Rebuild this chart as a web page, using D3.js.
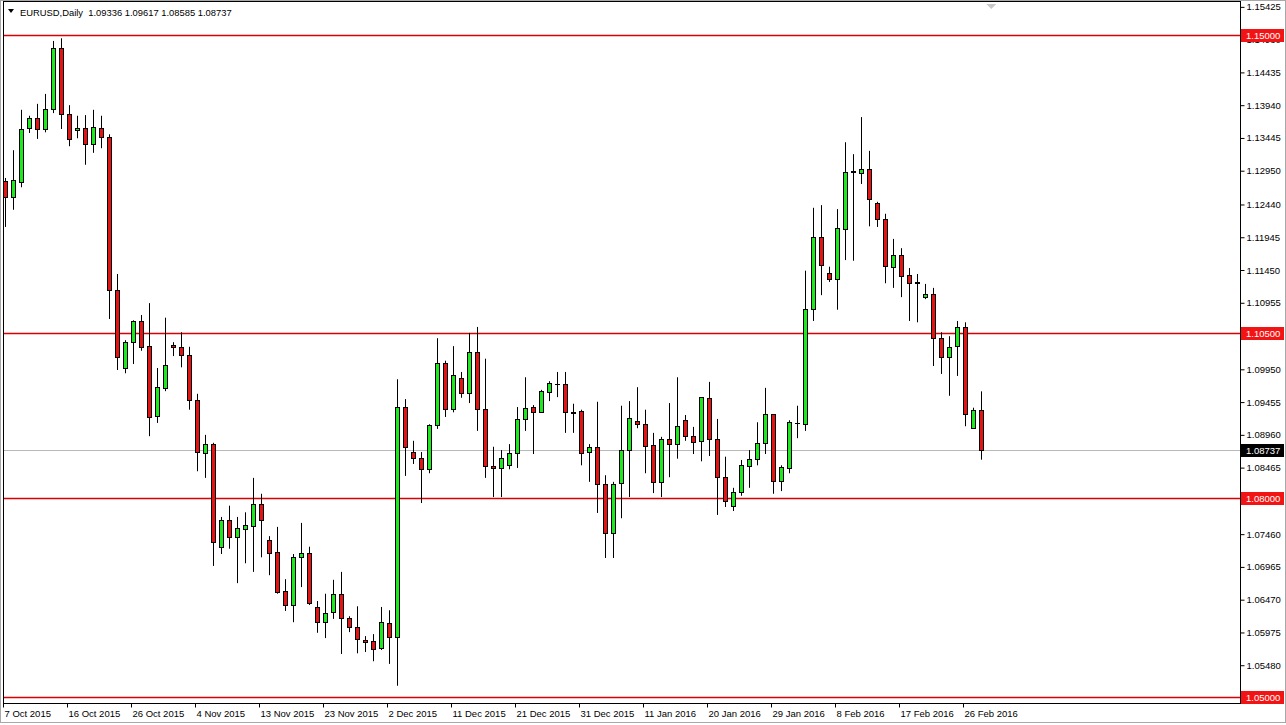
<!DOCTYPE html>
<html><head><meta charset="utf-8">
<script src="https://cdnjs.cloudflare.com/ajax/libs/d3/7.8.5/d3.min.js"></script>
<style>
html,body{margin:0;padding:0;background:#fff;}
svg{display:block;}
text{font-family:"Liberation Sans","DejaVu Sans",sans-serif;}
</style></head>
<body><svg id="c" width="1286" height="725"></svg>
<script>
const symbol = "EURUSD,Daily";
const dates = [
"2015-10-07","2015-10-08","2015-10-09","2015-10-11","2015-10-12","2015-10-13","2015-10-14","2015-10-15","2015-10-16","2015-10-18",
"2015-10-19","2015-10-20","2015-10-21","2015-10-22","2015-10-23","2015-10-25","2015-10-26","2015-10-27","2015-10-28","2015-10-29",
"2015-10-30","2015-11-01","2015-11-02","2015-11-03","2015-11-04","2015-11-05","2015-11-06","2015-11-08","2015-11-09","2015-11-10",
"2015-11-11","2015-11-12","2015-11-13","2015-11-15","2015-11-16","2015-11-17","2015-11-18","2015-11-19","2015-11-20","2015-11-22",
"2015-11-23","2015-11-24","2015-11-25","2015-11-26","2015-11-27","2015-11-29","2015-11-30","2015-12-01","2015-12-02","2015-12-03",
"2015-12-04","2015-12-06","2015-12-07","2015-12-08","2015-12-09","2015-12-10","2015-12-11","2015-12-13","2015-12-14","2015-12-15",
"2015-12-16","2015-12-17","2015-12-18","2015-12-20","2015-12-21","2015-12-22","2015-12-23","2015-12-24","2015-12-27","2015-12-28",
"2015-12-29","2015-12-30","2015-12-31","2016-01-03","2016-01-04","2016-01-05","2016-01-06","2016-01-07","2016-01-08","2016-01-10",
"2016-01-11","2016-01-12","2016-01-13","2016-01-14","2016-01-15","2016-01-17","2016-01-18","2016-01-19","2016-01-20","2016-01-21",
"2016-01-22","2016-01-24","2016-01-25","2016-01-26","2016-01-27","2016-01-28","2016-01-29","2016-01-31","2016-02-01","2016-02-02",
"2016-02-03","2016-02-04","2016-02-05","2016-02-07","2016-02-08","2016-02-09","2016-02-10","2016-02-11","2016-02-12","2016-02-14",
"2016-02-15","2016-02-16","2016-02-17","2016-02-18","2016-02-19","2016-02-21","2016-02-22","2016-02-23","2016-02-24","2016-02-25",
"2016-02-26","2016-02-28","2016-02-29"];
const open = [
1.1279,1.1255,1.1278,1.1360,1.1375,1.1358,1.1388,1.1480,1.1381,1.1356,
1.1360,1.1335,1.1360,1.1346,1.1115,1.0997,1.1036,1.1068,1.1030,1.0924,
1.0967,1.1032,1.1029,1.1017,1.0949,1.0869,1.0882,1.0727,1.0767,1.0742,
1.0754,1.0758,1.0792,1.0737,1.0719,1.0660,1.0639,1.0711,1.0718,1.0636,
1.0613,1.0628,1.0656,1.0619,1.0606,1.0586,1.0585,1.0574,1.0612,1.0591,
1.0938,1.0870,1.0861,1.0844,1.0911,1.1005,1.0935,1.0982,1.0959,1.1021,
1.0935,1.0849,1.0846,1.0850,1.0869,1.0920,1.0938,1.0930,1.0961,1.0973,
1.0973,1.0930,1.0932,1.0870,1.0878,1.0822,1.0748,1.0823,1.0873,1.0917,
1.0912,1.0881,1.0825,1.0890,1.0882,1.0918,1.0894,1.0887,1.0952,1.0890,
1.0832,1.0789,1.0810,1.0849,1.0860,1.0884,1.0927,1.0826,1.0846,1.0914,
1.0912,1.1086,1.1195,1.1140,1.1131,1.1207,1.1293,1.1292,1.1298,1.1246,
1.1222,1.1150,1.1168,1.1137,1.1127,1.1104,1.1109,1.1042,1.1014,1.1030,
1.1059,1.0906,1.09336];
const high = [
1.1284,1.1326,1.1387,1.1378,1.1396,1.1411,1.1491,1.1495,1.1394,1.1378,
1.1379,1.1387,1.1378,1.1350,1.1139,1.1039,1.1069,1.1077,1.1095,1.0997,
1.1073,1.1036,1.1051,1.1029,1.0958,1.0896,1.0884,1.0772,1.0789,1.0772,
1.0779,1.0831,1.0807,1.0743,1.0757,1.0678,1.0716,1.0763,1.0727,1.0645,
1.0656,1.0677,1.0689,1.0622,1.0637,1.0592,1.0595,1.0636,1.0631,1.0980,
1.0950,1.0887,1.0870,1.0912,1.1042,1.1008,1.1030,1.0991,1.1050,1.1059,
1.1011,1.0878,1.0873,1.0882,1.0938,1.0983,1.0941,1.0964,1.0977,1.0991,
1.0991,1.0943,1.0934,1.0882,1.0946,1.0835,1.0825,1.0940,1.0947,1.0968,
1.0934,1.0899,1.0893,1.0944,1.0983,1.0926,1.0908,1.0953,1.0976,1.0920,
1.0863,1.0816,1.0858,1.0873,1.0915,1.0967,1.0927,1.0850,1.0918,1.0940,
1.1144,1.1239,1.1243,1.1150,1.1237,1.1338,1.1320,1.1376,1.1325,1.1248,
1.1230,1.1192,1.1178,1.1148,1.1139,1.1124,1.1118,1.1051,1.1045,1.1068,
1.1066,1.0937,1.09617];
const low = [
1.1210,1.1236,1.1270,1.1352,1.1343,1.1353,1.1382,1.1358,1.1332,1.1344,
1.1304,1.1322,1.1329,1.1071,1.0994,1.0989,1.1003,1.1023,1.0894,1.0914,
1.0962,1.1015,1.0998,1.0934,1.0841,1.0831,1.0698,1.0716,1.0724,1.0672,
1.0702,1.0689,1.0711,1.0684,1.0656,1.0630,1.0613,1.0666,1.0639,1.0597,
1.0589,1.0618,1.0565,1.0598,1.0566,1.0568,1.0554,1.0571,1.0550,1.0517,
1.0834,1.0852,1.0793,1.0838,1.0905,1.0923,1.0930,1.0952,1.0944,1.0902,
1.0831,1.0802,1.0802,1.0844,1.0846,1.0902,1.0867,1.0929,1.0947,1.0953,
1.0899,1.0899,1.0850,1.0825,1.0778,1.0710,1.0710,1.0770,1.0802,1.0906,
1.0838,1.0808,1.0802,1.0832,1.0860,1.0887,1.0867,1.0856,1.0864,1.0775,
1.0787,1.0781,1.0804,1.0816,1.0850,1.0867,1.0807,1.0811,1.0838,1.0891,
1.0902,1.1068,1.1107,1.1127,1.1085,1.1160,1.1159,1.1275,1.1211,1.1210,
1.1125,1.1118,1.1104,1.1068,1.1066,1.1101,1.1000,1.0988,1.0955,1.0985,
1.0909,1.0906,1.08585];
const close = [
1.1255,1.1281,1.1358,1.1375,1.1358,1.1388,1.1480,1.1381,1.1343,1.1360,
1.1335,1.1361,1.1346,1.1115,1.1014,1.1036,1.1068,1.1029,1.0923,1.0968,
1.1002,1.1029,1.1017,1.0949,1.0870,1.0882,1.0734,1.0767,1.0742,1.0755,
1.0760,1.0792,1.0767,1.0718,1.0659,1.0639,1.0711,1.0718,1.0642,1.0613,
1.0627,1.0656,1.0619,1.0606,1.0588,1.0583,1.0572,1.0613,1.0591,1.0938,
1.0878,1.0861,1.0844,1.0911,1.1005,1.0935,1.0986,1.0959,1.1021,1.0935,
1.0849,1.0846,1.0861,1.0869,1.0920,1.0937,1.0930,1.0962,1.0974,1.0973,
1.0930,1.0929,1.0869,1.0878,1.0822,1.0748,1.0822,1.0873,1.0921,1.0912,
1.0879,1.0825,1.0890,1.0882,1.0909,1.0894,1.0885,1.0953,1.0890,1.0832,
1.0796,1.0810,1.0850,1.0860,1.0884,1.0927,1.0826,1.0847,1.0915,1.0914,
1.1086,1.1195,1.1153,1.1131,1.1208,1.1293,1.1295,1.1298,1.1252,1.1222,
1.1151,1.1168,1.1136,1.1125,1.1125,1.1109,1.1042,1.1014,1.1029,1.1059,
1.0927,1.0934,1.08737];
const xTickDates = ["2015-10-07","2015-10-16","2015-10-26","2015-11-04","2015-11-13","2015-11-23","2015-12-02","2015-12-11","2015-12-21","2015-12-31","2016-01-11","2016-01-20","2016-01-29","2016-02-08","2016-02-17","2016-02-26"];
const xTickLabels = ["7 Oct 2015","16 Oct 2015","26 Oct 2015","4 Nov 2015","13 Nov 2015","23 Nov 2015","2 Dec 2015","11 Dec 2015","21 Dec 2015","31 Dec 2015","11 Jan 2016","20 Jan 2016","29 Jan 2016","8 Feb 2016","17 Feb 2016","26 Feb 2016"];
const yTickValues = [1.15425,1.14930,1.14435,1.13940,1.13445,1.12950,1.12440,1.11945,1.11450,1.10955,1.10460,1.09950,1.09455,1.08960,1.08465,1.07970,1.07460,1.06965,1.06470,1.05975,1.05480,1.04985];
const levels = [1.15000,1.10500,1.08000,1.05000];

const svg = d3.select("#c");
const FONT = "'Liberation Sans','DejaVu Sans',sans-serif";
const FS = "9.5px";
const L = 4, R = 1240, T = 2, B = 703;
const n = dates.length;
const x = d3.scaleLinear().domain([0, n - 1]).range([5.3, 5.3 + 8 * (n - 1)]);
const y = d3.scaleLinear().domain([1.05, 1.15]).range([697, 35]);
const green = "#1ee81e", red = "#e41414";

// outer window border
svg.append("rect").attr("x",0.5).attr("y",0.5).attr("width",1285).attr("height",722)
  .attr("fill","#fff").attr("stroke","#a8a8a8");

svg.append("defs").append("clipPath").attr("id","pc")
  .append("rect").attr("x",L).attr("y",T).attr("width",R-L).attr("height",B-T);
const plot = svg.append("g").attr("clip-path","url(#pc)");

// level lines
plot.selectAll("line.lv").data(levels).join("line").attr("class","lv")
  .attr("x1",L).attr("x2",R)
  .attr("y1",d=>Math.round(y(d))+0.5).attr("y2",d=>Math.round(y(d))+0.5)
  .attr("stroke","#dc0000").attr("stroke-width",1.5);
// last price line
const last = close[n-1];
plot.append("line").attr("x1",L).attr("x2",R)
  .attr("y1",Math.round(y(last))+0.5).attr("y2",Math.round(y(last))+0.5)
  .attr("stroke","#b8b8b8").attr("shape-rendering","crispEdges");

// candles
const idx = d3.range(n);
const g = plot.selectAll("g.c").data(idx).join("g").attr("class","c");
g.append("line")
  .attr("x1",i=>Math.round(x(i))+0.5).attr("x2",i=>Math.round(x(i))+0.5)
  .attr("y1",i=>y(high[i])).attr("y2",i=>y(low[i]))
  .attr("stroke","#000").attr("stroke-width",1);
g.append("rect")
  .attr("x",i=>Math.round(x(i))-1.5).attr("width",4)
  .attr("y",i=>Math.round(y(Math.max(open[i],close[i])))+0.5)
  .attr("height",i=>Math.max(0.01, Math.round(y(Math.min(open[i],close[i]))) - Math.round(y(Math.max(open[i],close[i])))))
  .attr("fill",i=>close[i]>=open[i]?green:red)
  .attr("stroke","#000").attr("stroke-width",1);

// plot frame
svg.append("rect").attr("x",L-0.5).attr("y",T-0.5).attr("width",R-L+1).attr("height",B-T+1)
  .attr("fill","none").attr("stroke","#000").attr("shape-rendering","crispEdges");

// shift marker
svg.append("path").attr("d",`M${x(n)-3},4 L${x(n)+7},4 L${x(n)+2},9 Z`).attr("fill","#c8c8c8");

// right axis
const ya = svg.append("g").attr("transform",`translate(${R+0.5},0)`)
  .call(d3.axisRight(y).tickValues(yTickValues).tickFormat(d3.format(".5f")).tickSize(4).tickPadding(2));
ya.select(".domain").remove();
ya.selectAll("text").attr("font-size",FS).attr("fill","#000").style("font-family",FONT);
ya.selectAll("line").attr("stroke","#000");

// level labels
const lg = svg.selectAll("g.lvl").data(levels).join("g").attr("class","lvl")
  .attr("transform",d=>`translate(${R+1},${Math.round(y(d))})`);
lg.append("rect").attr("x",0).attr("y",-6).attr("width",43).attr("height",13).attr("fill","#f21414");
lg.append("text").attr("x",5).attr("y",4).attr("font-size",FS).attr("fill","#fff").text(d=>d3.format(".5f")(d));
const lastG = svg.append("g").attr("transform",`translate(${R+1},${Math.round(y(last))})`);
lastG.append("rect").attr("x",0).attr("y",-6).attr("width",43).attr("height",13).attr("fill","#000");
lastG.append("text").attr("x",5).attr("y",4).attr("font-size",FS).attr("fill","#fff").text(d3.format(".5f")(last));

// bottom axis
const tickIdx = xTickDates.map(d=>dates.indexOf(d));
const xa = svg.append("g").attr("transform",`translate(0,${B+0.5})`)
  .call(d3.axisBottom(x).tickValues(tickIdx).tickFormat((d,i)=>xTickLabels[i]).tickSize(4).tickPadding(3));
xa.select(".domain").remove();
xa.selectAll(".tick").attr("transform",d=>`translate(${Math.round(x(d))-1.5},0)`);
xa.selectAll("line").attr("stroke","#000");
xa.selectAll("text").attr("text-anchor","start").attr("x",1).attr("dy","0.71em")
  .attr("font-size",FS).attr("fill","#000").style("font-family",FONT);

// title
svg.append("path").attr("d","M8,9 L14,9 L11,13 Z").attr("fill","#000");
svg.append("text").attr("x",20).attr("y",16).attr("font-size","9.4px").attr("fill","#000")
  .attr("xml:space","preserve").style("white-space","pre")
  .text(`${symbol}  ${d3.format(".5f")(open[n-1])} ${d3.format(".5f")(high[n-1])} ${d3.format(".5f")(low[n-1])} ${d3.format(".5f")(close[n-1])}`);
</script></body></html>
